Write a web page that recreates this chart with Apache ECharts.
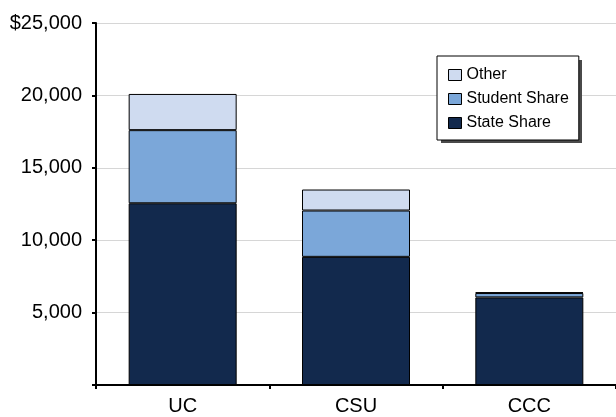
<!DOCTYPE html>
<html>
<head>
<meta charset="utf-8">
<script src="https://cdn.jsdelivr.net/npm/echarts@6/dist/echarts.min.js"></script>
<style>
html,body{margin:0;padding:0;background:#fff;}
#c{width:616px;height:417px;}
</style>
</head>
<body>
<div id="c"></div>
<script>
var categories = ['UC', 'CSU', 'CCC'];
var stateShare = [12550, 8850, 6050];
var studentShare = [5050, 3200, 300];
var otherShare = [2500, 1450, 50];
var yTicks = [0, 5000, 10000, 15000, 20000, 25000];

var chart = echarts.init(document.getElementById('c'));
var font = 'Liberation Sans, Arial, sans-serif';
function fmt(v){
  if (v === 0) return '';
  var s = v.toLocaleString('en-US');
  return v === yTicks[yTicks.length-1] ? '$' + s : s;
}
var barStyle = function(color){
  return {color: color, borderColor: '#000', borderWidth: 1};
};
chart.setOption({
  animation: false,
  textStyle: {fontFamily: font},
  grid: {left: 96, right: 0, top: 23, bottom: 32, containLabel: false},
  graphic: [{
    type: 'rect', left: 441, top: 60, z: 90, silent: true,
    shape: {width: 141, height: 83},
    style: {fill: '#4a4a4a'}
  }],
  legend: {
    orient: 'vertical',
    left: 437, top: 56, z: 100,
    data: ['Other', 'Student Share', 'State Share'],
    icon: 'rect',
    itemWidth: 13, itemHeight: 11,
    itemGap: 8,
    padding: [11, 10, 9, 11],
    backgroundColor: '#fff',
    borderColor: '#000', borderWidth: 1,
    itemStyle: {borderColor: '#000', borderWidth: 1},
    textStyle: {fontFamily: font, fontSize: 16, color: '#000'}
  },
  xAxis: {
    type: 'category',
    data: categories,
    axisLine: {lineStyle: {color: '#000', width: 2}},
    axisTick: {show: true, length: 4, lineStyle: {color: '#000', width: 2}},
    axisLabel: {fontSize: 20, color: '#000', margin: 11, fontFamily: font}
  },
  yAxis: {
    type: 'value',
    min: yTicks[0], max: yTicks[yTicks.length-1], interval: 5000,
    axisLine: {show: true, lineStyle: {color: '#000', width: 2}},
    axisTick: {show: true, length: 4, lineStyle: {color: '#000', width: 2}},
    axisLabel: {fontSize: 20, color: '#000', margin: 14, fontFamily: font, formatter: fmt},
    splitLine: {lineStyle: {color: '#d6d6d6', width: 1}}
  },
  series: [
    {name: 'State Share', type: 'bar', stack: 's', data: stateShare, barWidth: 108, itemStyle: barStyle('#12294d')},
    {name: 'Student Share', type: 'bar', stack: 's', data: studentShare, barWidth: 108, itemStyle: barStyle('#7ba7d9')},
    {name: 'Other', type: 'bar', stack: 's', data: otherShare, barWidth: 108, itemStyle: barStyle('#cfdbf0')}
  ]
});
</script>
</body>
</html>
